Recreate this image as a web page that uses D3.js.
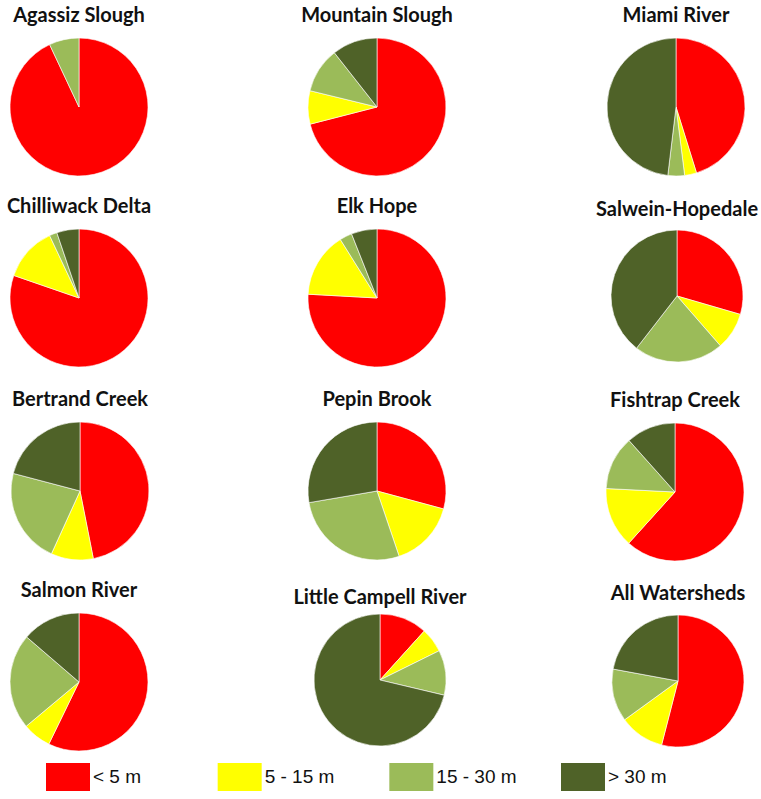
<!DOCTYPE html>
<html>
<head>
<meta charset="utf-8">
<script src="https://cdn.jsdelivr.net/npm/d3@7"></script>
<style>
  html, body { margin: 0; padding: 0; background: #fff; }
  svg { display: block; }
</style>
</head>
<body>
<svg id="chart" width="761" height="799"></svg>
<script>
// Riparian buffer width classes (share of stream length, %)
const categories = ["< 5 m", "5 - 15 m", "15 - 30 m", "> 30 m"];
const colors = ["#FF0000", "#FFFF00", "#9BBB59", "#4F6228"];

const watersheds = [
  "Agassiz Slough", "Mountain Slough", "Miami River",
  "Chilliwack Delta", "Elk Hope", "Salwein-Hopedale",
  "Bertrand Creek", "Pepin Brook", "Fishtrap Creek",
  "Salmon River", "Little Campell River", "All Watersheds"
];

const under5     = [93.0, 71.0, 45.2, 80.3, 75.8, 29.5, 46.9, 29.2, 61.7, 57.2, 11.7, 54.0];
const from5to15  = [0.0,  7.8,  2.8, 12.7, 15.2,  9.1,  9.9, 15.6, 14.1,  6.7,  6.0, 11.0];
const from15to30 = [7.0, 10.6,  3.9,  1.8,  2.9, 21.9, 22.3, 27.5, 12.6, 22.4, 11.0, 12.9];
const over30     = [0.0, 10.6, 48.1,  5.2,  6.0, 39.5, 20.9, 27.7, 11.6, 13.7, 71.3, 22.1];

// Grid layout: three columns, four rows of pies, with small per-pie nudges
const colX = [79, 377, 676];
const rowY = [107, 298, 491, 682];
const nudgeX = [0, 0, 0, 0, 0, 1, 1, 0, -1, 0, 3, 2];
const nudgeY = [0, 0, 0, 0, 0, -2, 0, 0, 1, 0, -2, -1];
const radii = [69, 69, 69, 69, 69, 66, 69, 69, 69, 69, 66, 66];
const titleShift = [0, 0, 0, 0, 0, 2, 0, 0, 0, 0, 6, 1];

const svg = d3.select("#chart");

const pie = d3.pie().sort(null).value(d => d.value);
const color = d3.scaleOrdinal().domain(categories).range(colors);

watersheds.forEach((name, i) => {
  const cx = colX[i % 3] + nudgeX[i];
  const cy = rowY[Math.floor(i / 3)] + nudgeY[i];
  const r = radii[i];
  const vals = [under5[i], from5to15[i], from15to30[i], over30[i]]
    .map((v, k) => ({ cat: categories[k], value: v }));

  const g = svg.append("g").attr("transform", `translate(${cx},${cy})`);
  const arc = d3.arc().innerRadius(0).outerRadius(r);

  g.selectAll("path")
    .data(pie(vals).filter(d => d.data.value > 0))
    .join("path")
    .attr("d", arc)
    .attr("fill", d => color(d.data.cat))
    .attr("stroke", "#fff")
    .attr("stroke-width", 0.6);

  svg.append("text")
    .attr("x", cx)
    .attr("y", cy - r - 21 + titleShift[i])
    .attr("text-anchor", "middle")
    .attr("dominant-baseline", "middle")
    .attr("font-family", "Lato, 'Open Sans', sans-serif")
    .attr("font-weight", "bold")
    .attr("font-size", 20)
    .attr("fill", "#111")
    .text(name);
});

// Legend
const legendX = d3.scalePoint().domain(categories).range([46, 561]);
const legend = svg.append("g");
categories.forEach(c => {
  const x = legendX(c);
  legend.append("rect")
    .attr("x", x).attr("y", 763)
    .attr("width", 44).attr("height", 28)
    .attr("fill", color(c));
  legend.append("text")
    .attr("x", x + 47).attr("y", 778)
    .attr("dominant-baseline", "middle")
    .attr("font-family", "'Liberation Sans', Arial, sans-serif")
    .attr("font-size", 19)
    .attr("fill", "#111")
    .text(c);
});
</script>
</body>
</html>
